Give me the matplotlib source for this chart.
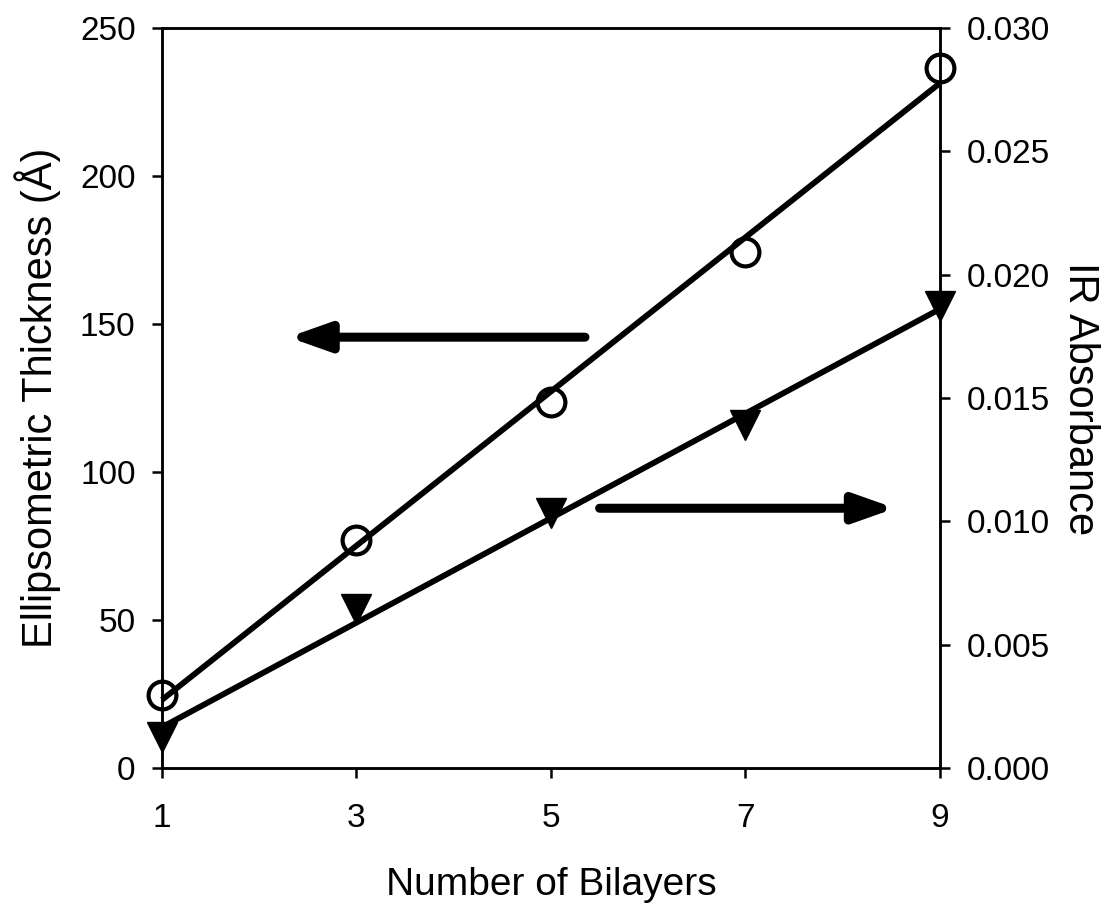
import matplotlib.pyplot as plt
import numpy as np

plt.rcParams['font.family'] = ['Liberation Sans', 'DejaVu Sans']

# dati
bilayers = np.array([1, 3, 5, 7, 9])
spessore = np.array([24.7, 77.0, 123.7, 174.3, 236.5])          # Angstrom
assorbanza = np.array([0.00126, 0.00645, 0.01034, 0.0139, 0.01873])

x_ticks = [1, 3, 5, 7, 9]
y_ticks_sx = [0, 50, 100, 150, 200, 250]
y_ticks_dx = [0.000, 0.005, 0.010, 0.015, 0.020, 0.025, 0.030]

# rette di regressione
fit_sp = np.polyfit(bilayers, spessore, 1)
fit_ab = np.polyfit(bilayers, assorbanza, 1)
xf = np.array([1, 9])

fig = plt.figure(figsize=(11.11, 9.09), dpi=100)
ax = fig.add_axes([0.1458, 0.155, 0.7002, 0.814])
ax2 = ax.twinx()

ax.plot(xf, np.polyval(fit_sp, xf), color='black', lw=4.2, solid_capstyle='butt', clip_on=False)
ax.plot(bilayers, spessore, 'o', ms=20, mfc='none', mec='black', mew=3, clip_on=False, zorder=5)

ax2.plot(xf, np.polyval(fit_ab, xf), color='black', lw=4.2, solid_capstyle='butt', clip_on=False)
ax2.plot(bilayers, assorbanza, 'v', ms=21, color='black', clip_on=False, zorder=5)

ax.set_xlim(1, 9)
ax.set_ylim(0, 250)
ax2.set_ylim(0, 0.030)
ax.set_xticks(x_ticks)
ax.set_yticks(y_ticks_sx)
ax2.set_yticks(y_ticks_dx)
ax2.set_yticklabels(['%.3f' % v for v in y_ticks_dx])

for a in (ax, ax2):
    for s in a.spines.values():
        s.set_linewidth(1.8)
    a.tick_params(direction='out', length=7, width=1.8, labelsize=24, pad=12)
ax.tick_params(axis='x', pad=18)

ax.set_xlabel('Number of Bilayers', fontsize=28, labelpad=24)
ax.set_ylabel('Ellipsometric Thickness (Å)', fontsize=30, labelpad=14)
ax2.set_ylabel('IR Absorbance', fontsize=30, rotation=270, labelpad=36)

# frecce che indicano l'asse
stile = '-|>,head_length=2.4,head_width=0.85'
ax.annotate('', xy=(2.30, 145.6), xytext=(5.35, 145.6),
            arrowprops=dict(arrowstyle=stile, lw=6.5, color='black', shrinkA=0, shrinkB=0))
ax.annotate('', xy=(8.54, 87.8), xytext=(5.50, 87.8),
            arrowprops=dict(arrowstyle=stile, lw=6.5, color='black', shrinkA=0, shrinkB=0))

fig.savefig('out.png', dpi=100)
